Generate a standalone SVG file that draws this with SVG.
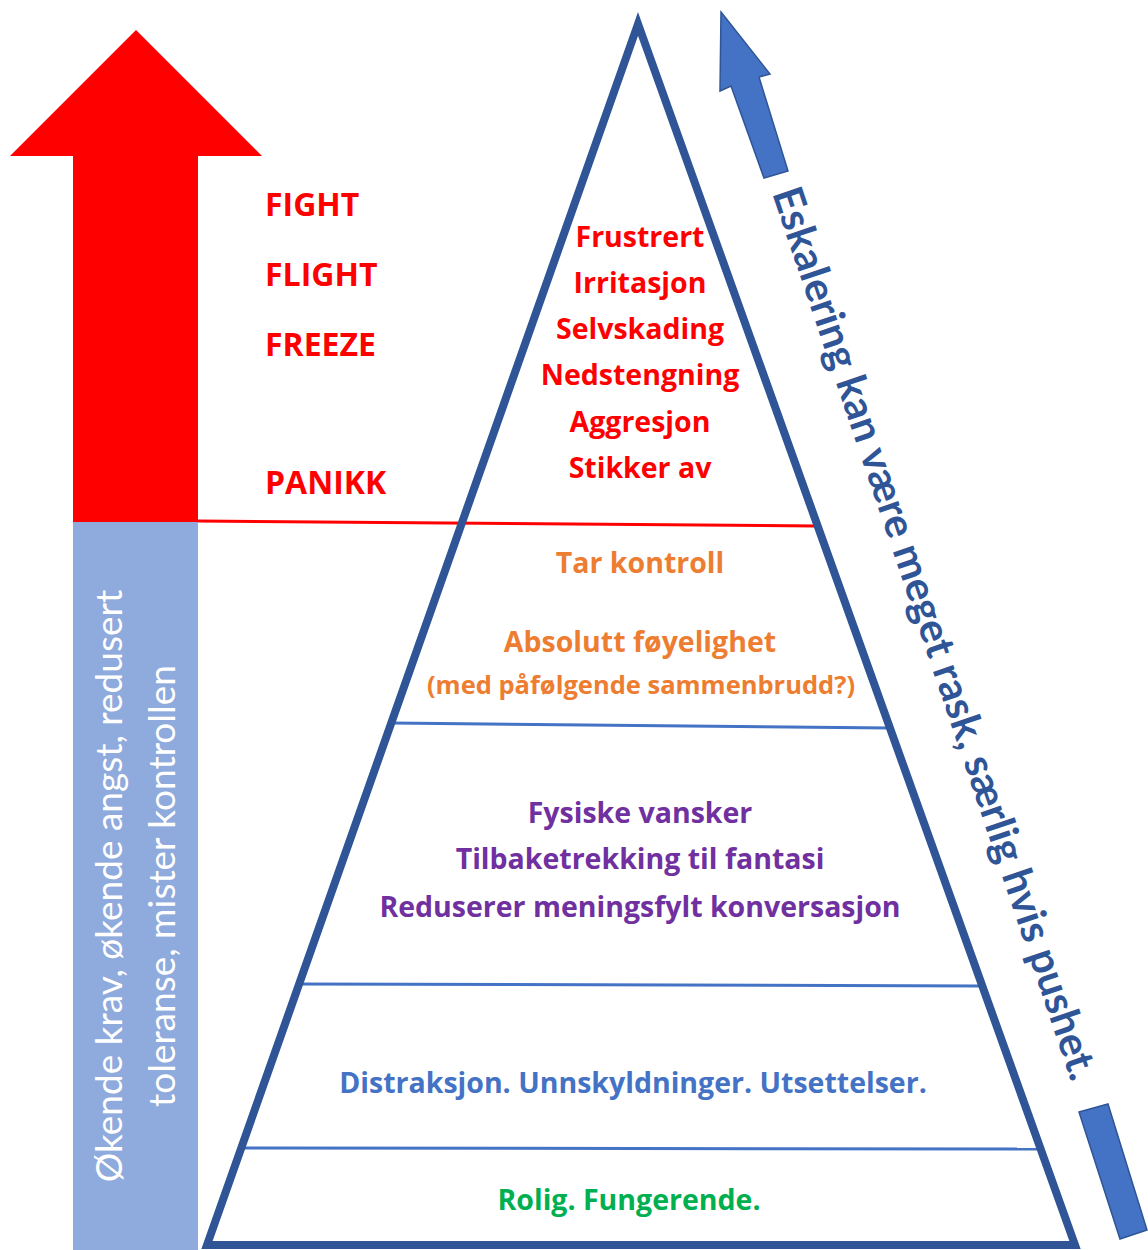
<svg xmlns="http://www.w3.org/2000/svg" width="1148" height="1250" viewBox="0 0 1148 1250">
  <style>
    .ctr { font-family: "Open Sans", "Noto Sans", "DejaVu Sans", sans-serif; font-weight: 700; font-size: 28.5px; text-anchor: middle; }
    .lvl { font-family: "Open Sans", "Noto Sans", "DejaVu Sans", sans-serif; font-weight: 700; font-size: 32px; fill: #FF0000; }
    .red { fill: #FF0000; }
    .orange { fill: #ED7D31; }
    .purple { fill: #7030A0; }
    .blue { fill: #4472C4; }
    .green { fill: #00B050; }
    .divider { stroke: #4472C4; stroke-width: 3; fill: none; }
    .side { font-family: Lato, "Open Sans", sans-serif; font-size: 37px; fill: #FFFFFF; text-anchor: middle; }
    .esc { font-family: Lato, "Open Sans", sans-serif; font-weight: 700; font-size: 41.5px; fill: #2F5597; }
  </style>
  <rect width="1148" height="1250" fill="#FFFFFF"/>

  <g id="left-arrow">
    <polygon points="136,30 262,156 198,156 198,522 73,522 73,156 10,156" fill="#FF0000"/>
    <rect x="73" y="522" width="125" height="728" fill="#8FAADC"/>
    <text class="side" transform="translate(122,886) rotate(-90)">Økende krav, økende angst, redusert</text>
    <text class="side" transform="translate(175,886) rotate(-90)">toleranse, mister kontrollen</text>
  </g>

  <g id="escalation-arrow">
    <polygon points="721,12 770,74 759,77 788,171 764,178 731,86 720,91" fill="#4472C4" stroke="#2F5597" stroke-width="1.5"/>
    <polygon points="1079,1112 1108,1104 1147,1230 1120,1239" fill="#4472C4" stroke="#2F5597" stroke-width="1.5"/>
    <text class="esc" transform="translate(772,193) rotate(71.4)">Eskalering kan være meget rask, særlig hvis pushet.</text>
  </g>

  <g id="connectors">
    <line x1="198" y1="521" x2="816" y2="526" stroke="#FF0000" stroke-width="3"/>
    <line class="divider" x1="391" y1="723" x2="889" y2="728"/>
    <line class="divider" x1="299" y1="984" x2="982" y2="986"/>
    <line class="divider" x1="241" y1="1148" x2="1040" y2="1149"/>
  </g>

  <g id="pyramid">
    <polygon points="638,24 207,1245 1075,1245" fill="none" stroke="#2F5597" stroke-width="8" stroke-linejoin="miter" stroke-miterlimit="10"/>
  </g>

  <g id="levels">
    <text class="lvl" x="265" y="216">FIGHT</text>
    <text class="lvl" x="265" y="286">FLIGHT</text>
    <text class="lvl" x="265" y="356">FREEZE</text>
    <text class="lvl" x="265" y="494">PANIKK</text>
  </g>

  <g id="tier-red">
    <text class="ctr red" x="640" y="247">Frustrert</text>
    <text class="ctr red" x="640" y="293">Irritasjon</text>
    <text class="ctr red" x="640" y="339">Selvskading</text>
    <text class="ctr red" x="640" y="385">Nedstengning</text>
    <text class="ctr red" x="640" y="432">Aggresjon</text>
    <text class="ctr red" x="640" y="478">Stikker av</text>
  </g>

  <g id="tier-orange">
    <text class="ctr orange" x="640" y="573">Tar kontroll</text>
    <text class="ctr orange" x="640" y="652">Absolutt føyelighet</text>
    <text class="ctr orange" x="641" y="694" style="font-size:25.5px">(med påfølgende sammenbrudd?)</text>
  </g>

  <g id="tier-purple">
    <text class="ctr purple" x="640" y="823">Fysiske vansker</text>
    <text class="ctr purple" x="640" y="869">Tilbaketrekking til fantasi</text>
    <text class="ctr purple" x="640" y="917">Reduserer meningsfylt konversasjon</text>
  </g>

  <g id="tier-blue">
    <text class="ctr blue" x="633" y="1093">Distraksjon. Unnskyldninger. Utsettelser.</text>
  </g>

  <g id="tier-green">
    <text class="ctr green" x="629" y="1210">Rolig. Fungerende.</text>
  </g>
</svg>
